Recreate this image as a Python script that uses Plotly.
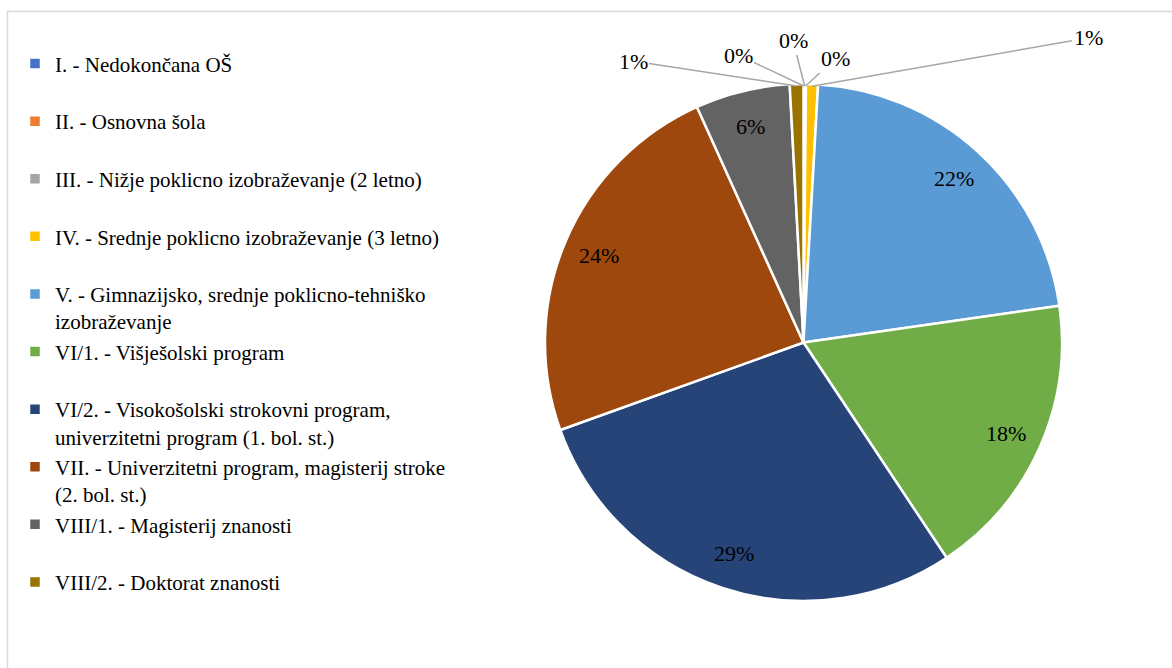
import math
import plotly.graph_objects as go

categories = [
    "I. - Nedokončana OŠ",
    "II. - Osnovna šola",
    "III. - Nižje poklicno izobraževanje (2 letno)",
    "IV. - Srednje poklicno izobraževanje (3 letno)",
    "V. - Gimnazijsko, srednje poklicno-tehniško<br>izobraževanje",
    "VI/1. - Višješolski program",
    "VI/2. - Visokošolski strokovni program,<br>univerzitetni program (1. bol. st.)",
    "VII. - Univerzitetni program, magisterij stroke<br>(2. bol. st.)",
    "VIII/1. - Magisterij znanosti",
    "VIII/2. - Doktorat znanosti",
]
values = [0.05, 0.05, 0.05, 0.75, 21.8, 17.9, 28.8, 23.7, 5.9, 0.85]
colors = ["#4472C4", "#ED7D31", "#A5A5A5", "#FFC000", "#5B9BD5",
          "#70AD47", "#264478", "#9E480E", "#636363", "#997300"]

# label placement (style): None = inside at fixed radius, else pixel position of callout text
callout_pos = [(738, 55), (793, 41), (835, 59), (1088, 38), None,
               None, None, None, None, (633, 61)]

W, H = 1172, 668
cx, cy, r = 803.5, 342.5, 258.5
inside_frac = 0.86

legend_labels = [c if "<br>" in c else c + "<br> " for c in categories]

fig = go.Figure(go.Pie(
    labels=legend_labels,
    values=values,
    sort=False,
    direction="clockwise",
    rotation=0,
    marker=dict(colors=colors, line=dict(color="white", width=2.5)),
    textinfo="none",
    domain=dict(x=[(cx - r) / W, (cx + r) / W], y=[(H - cy - r) / H, (H - cy + r) / H]),
    hoverinfo="label+percent",
))

total = sum(values)
annotations = []
cum = 0.0
for v, pos in zip(values, callout_pos):
    mid = (cum + v / 2) / total * 2 * math.pi
    cum += v
    txt = f"{round(v / total * 100)}%"
    font = dict(family="Liberation Serif", size=22, color="black")
    if pos is None:
        px = cx + inside_frac * r * math.sin(mid)
        py = cy - inside_frac * r * math.cos(mid)
        annotations.append(dict(x=px / W, y=1 - py / H, xref="paper", yref="paper",
                                xanchor="center", yanchor="middle",
                                text=txt, showarrow=False, font=font))
    else:
        px = cx + (r - 2) * math.sin(mid)
        py = cy - (r - 2) * math.cos(mid)
        annotations.append(dict(x=px / W, y=1 - py / H, xref="paper", yref="paper",
                                ax=pos[0] - px, ay=pos[1] - py,
                                text=txt, showarrow=True, arrowhead=0,
                                arrowcolor="#A6A6A6", arrowwidth=1.5, standoff=0,
                                font=font))

fig.update_layout(
    width=W, height=H,
    margin=dict(l=0, r=0, t=0, b=0),
    paper_bgcolor="white",
    plot_bgcolor="white",
    font=dict(family="Liberation Serif", size=21, color="black"),
    legend=dict(
        xref="paper", yref="paper",
        x=15 / W, y=0.935, xanchor="left", yanchor="top",
        valign="top",
        font=dict(family="Liberation Serif", size=21, color="black"),
        itemwidth=30,
        maxheight=650,
        bgcolor="rgba(0,0,0,0)",
    ),
    annotations=annotations,
    shapes=[dict(type="rect", xref="paper", yref="paper",
                 x0=7.5 / W, x1=1.1, y0=-0.1, y1=(H - 11.5) / H,
                 line=dict(color="#D9D9D9", width=1.5), layer="below")],
)

fig.write_html("out.html")
